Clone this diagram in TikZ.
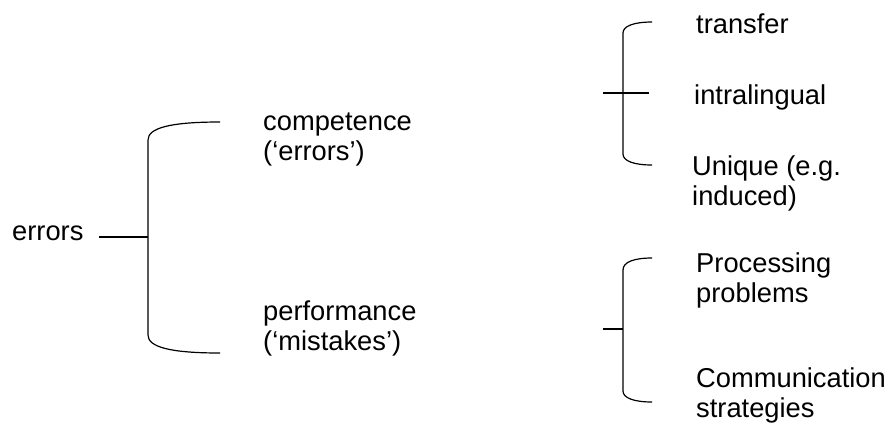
\documentclass[tikz,border=0pt]{standalone}
\usepackage{fontspec}
\setmainfont{Liberation Sans}
\begin{document}
\begin{tikzpicture}[x=1bp,y=-1bp,
  lbl/.style={anchor=base west,inner sep=0pt,align=left,font=\fontsize{27.3bp}{30bp}\selectfont},
  br/.style={line width=1.2bp,black}]
\useasboundingbox (0,0) rectangle (891,424);
% text nodes (multi-line nodes: base = last line's baseline)
\node[lbl] (err) at (12,240) {errors};
\node[lbl] (comp) at (263,160) {competence\\(‘errors’)};
\node[lbl] (perf) at (263,350) {performance\\(‘mistakes’)};
\node[lbl] (tra) at (696,33) {transfer};
\node[lbl] (intra) at (694,104) {intralingual};
\node[lbl] (uni) at (692,205) {Unique (e.g.\\induced)};
\node[lbl] (proc) at (696,302) {Processing\\problems};
\node[lbl] (comm) at (696,417) {Communication\\strategies};
% brace 1
\coordinate (b1s) at (99,237);
\coordinate (b1m) at (148,237);
\coordinate (b1t) at (220,122);
\coordinate (b1b) at (220,353);
\draw[br] (b1s) -- (b1m);
\draw[br] (b1t) .. controls (170,122) and (148,128) .. (148,140) -- (148,335)
  .. controls (148,347) and (170,353) .. (b1b);
% brace 2
\coordinate (b2s) at (603,93);
\coordinate (b2m) at (649,93);
\coordinate (b2t) at (652,22);
\coordinate (b2b) at (652,165);
\draw[br] (b2s) -- (b2m);
\draw[br] (b2t) .. controls (634,22) and (623,26) .. (623,33) -- (623,154)
  .. controls (623,161) and (634,165) .. (b2b);
% brace 3
\coordinate (b3s) at (603,329);
\coordinate (b3m) at (623,329);
\coordinate (b3t) at (652,258);
\coordinate (b3b) at (652,402);
\draw[br] (b3s) -- (b3m);
\draw[br] (b3t) .. controls (634,258) and (623,262) .. (623,270) -- (623,391)
  .. controls (623,398) and (634,402) .. (b3b);
\end{tikzpicture}
\end{document}
